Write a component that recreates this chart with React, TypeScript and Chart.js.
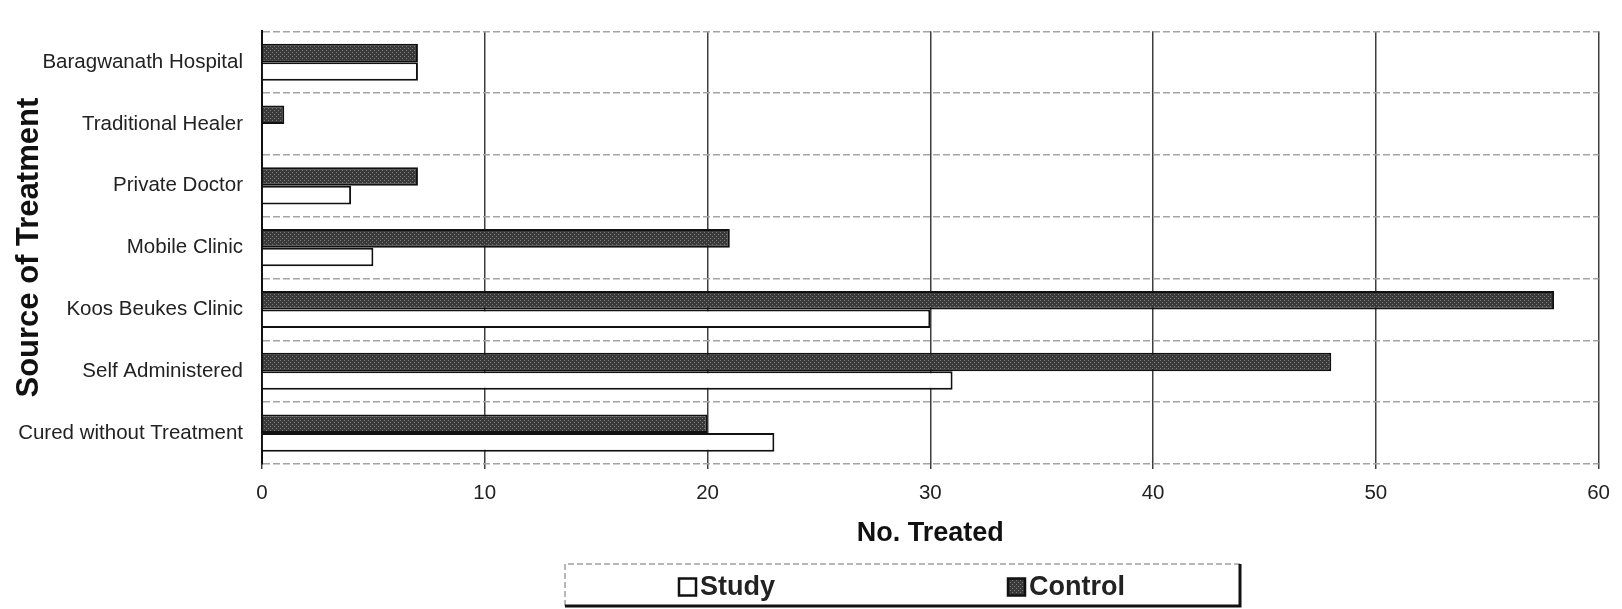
import { useEffect, useRef } from "react";
import { Chart, registerables, ChartConfiguration, Plugin } from "chart.js";

Chart.register(...registerables);

const Sources: string[] = [
  "Baragwanath Hospital",
  "Traditional Healer",
  "Private Doctor",
  "Mobile Clinic",
  "Koos Beukes Clinic",
  "Self Administered",
  "Cured without Treatment",
];
const StudyValues: number[] = [7, 0, 4, 5, 30, 31, 23];
const ControlValues: number[] = [7, 1, 7, 21, 58, 48, 20];
const SeriesNames: string[] = ["Study", "Control"];
const TreatedTicks: number[] = [0, 10, 20, 30, 40, 50, 60];

const FONT = '"Liberation Sans", Arial, sans-serif';

// dark speckled fill like the scanned Excel pattern
function makeControlFill(): CanvasPattern | string {
  const tile = document.createElement("canvas");
  tile.width = 4;
  tile.height = 4;
  const tileContext = tile.getContext("2d");
  if (!tileContext) return "#4a4a4a";
  tileContext.fillStyle = "#3a3a3a";
  tileContext.fillRect(0, 0, 4, 4);
  tileContext.fillStyle = "#7a7a7a";
  tileContext.fillRect(0, 0, 1, 1);
  tileContext.fillRect(2, 2, 1, 1);
  return tileContext.createPattern(tile, "repeat") ?? "#4a4a4a";
}

const boxedLegend: Plugin<"bar"> = {
  id: "boxedLegend",
  afterDraw(chart) {
    const ctx = chart.ctx;
    const left = 565;
    const top = 564;
    const right = 1240;
    const bottom = 606;
    ctx.save();
    ctx.fillStyle = "#ffffff";
    ctx.fillRect(left, top, right - left, bottom - top);
    ctx.strokeStyle = "#a0a0a0";
    ctx.lineWidth = 1.5;
    ctx.setLineDash([6, 3]);
    ctx.beginPath();
    ctx.moveTo(left, bottom);
    ctx.lineTo(left, top);
    ctx.lineTo(right, top);
    ctx.stroke();
    ctx.setLineDash([]);
    ctx.strokeStyle = "#111111";
    ctx.lineWidth = 3;
    ctx.beginPath();
    ctx.moveTo(left, bottom);
    ctx.lineTo(right, bottom);
    ctx.lineTo(right, top);
    ctx.stroke();

    const markerLefts = [679, 1008];
    const centerY = 587;
    const size = 17;
    ctx.font = `bold 27px ${FONT}`;
    ctx.textBaseline = "middle";
    ctx.textAlign = "left";
    SeriesNames.forEach((name, index) => {
      const dataset = chart.data.datasets.find((item) => item.label === name);
      if (!dataset) return;
      const markerLeft = markerLefts[index];
      ctx.fillStyle = dataset.backgroundColor as string | CanvasPattern;
      ctx.fillRect(markerLeft, centerY - size / 2, size, size);
      ctx.strokeStyle = "#111111";
      ctx.lineWidth = 2.5;
      ctx.strokeRect(markerLeft, centerY - size / 2, size, size);
      ctx.fillStyle = "#222222";
      ctx.fillText(name, markerLeft + size + 4, centerY + 1);
    });
    ctx.restore();
  },
};

function TreatmentChart() {
  const chartRef = useRef<null | HTMLCanvasElement>(null);

  useEffect(() => {
    document.body.style.margin = "0";
    let chartInstance: null | Chart<"bar"> = null;
    if (chartRef.current) {
      const chartContext = chartRef.current.getContext("2d");
      if (chartContext) {
        const chartConfiguration: ChartConfiguration<"bar"> = {
          type: "bar",
          data: {
            labels: Sources,
            datasets: [
              {
                label: "Control",
                data: ControlValues,
                backgroundColor: makeControlFill(),
                borderColor: "#111111",
                borderWidth: 2,
                categoryPercentage: 0.6,
                barPercentage: 1,
              },
              {
                label: "Study",
                data: StudyValues,
                backgroundColor: "#ffffff",
                borderColor: "#111111",
                borderWidth: 2,
                categoryPercentage: 0.6,
                barPercentage: 1,
              },
            ],
          },
          options: {
            indexAxis: "y",
            animation: false,
            responsive: true,
            maintainAspectRatio: false,
            layout: {
              padding: { top: 15, right: 15, bottom: 56, left: 0 },
            },
            scales: {
              x: {
                min: 0,
                max: 60,
                afterBuildTicks: (scale) => {
                  scale.ticks = TreatedTicks.map((value) => ({ value }));
                },
                grid: {
                  color: "#3e3e3e",
                  lineWidth: 1.5,
                  tickLength: 5,
                },
                border: {
                  display: false,
                },
                ticks: {
                  color: "#222222",
                  padding: 12,
                  font: { family: FONT, size: 20.5 },
                },
                title: {
                  display: true,
                  text: "No. Treated",
                  color: "#111111",
                  padding: { top: 0, bottom: 3 },
                  font: { family: FONT, size: 27, weight: "bold" },
                },
              },
              y: {
                afterFit: (scale) => {
                  scale.width = 262;
                },
                grid: {
                  color: "#a4a4a4",
                  lineWidth: 1.5,
                  drawTicks: false,
                },
                border: {
                  display: true,
                  color: "#111111",
                  width: 2,
                  dash: [7, 3],
                },
                ticks: {
                  color: "#222222",
                  padding: 19,
                  font: { family: FONT, size: 20.5 },
                },
                title: {
                  display: true,
                  text: "Source of Treatment",
                  color: "#111111",
                  padding: { top: 11, bottom: 0 },
                  font: { family: FONT, size: 31, weight: "bold" },
                },
              },
            },
            plugins: {
              legend: { display: false },
              tooltip: { enabled: false },
            },
          },
          plugins: [boxedLegend],
        };
        chartInstance = new Chart(chartContext, chartConfiguration);
      }
    }
    return () => {
      if (chartInstance) {
        chartInstance.destroy();
      }
    };
  }, []);

  return (
    <div style={{ position: "relative", width: 1622, height: 609 }}>
      <canvas ref={chartRef} />
    </div>
  );
}

export default function App() {
  return <TreatmentChart />;
}
